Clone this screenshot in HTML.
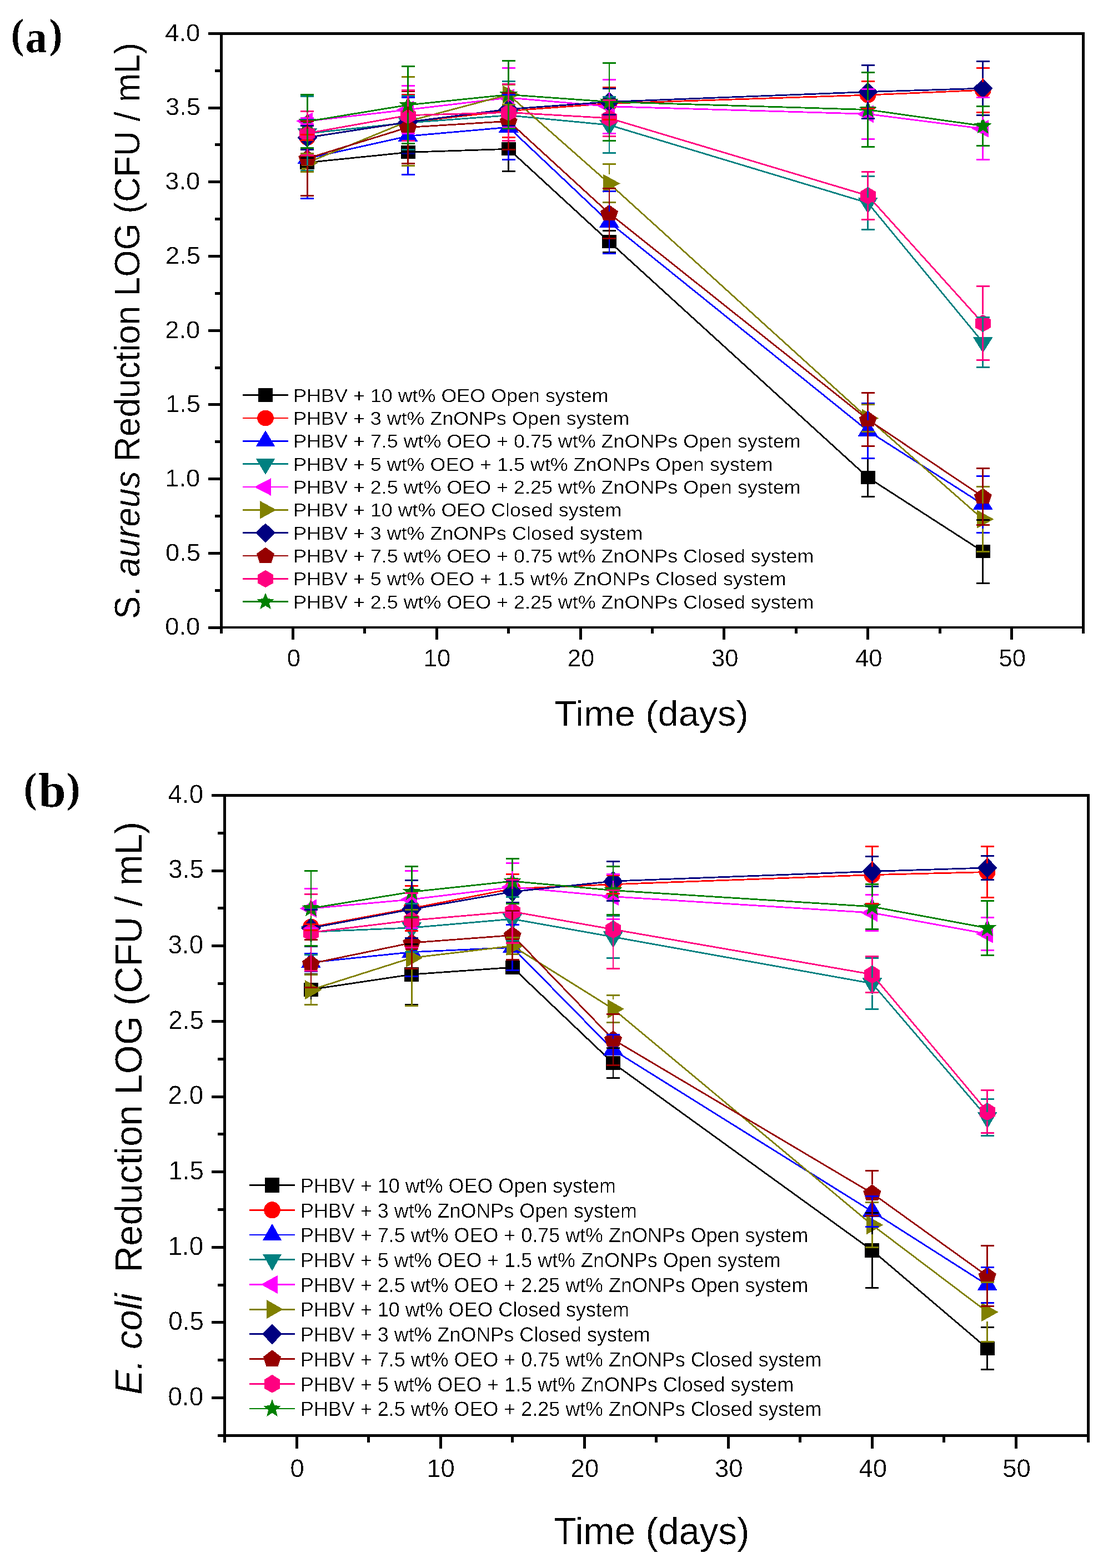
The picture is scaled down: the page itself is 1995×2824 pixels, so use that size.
<!DOCTYPE html>
<html><head><meta charset="utf-8"><title>Antibacterial activity</title>
<style>html,body{margin:0;padding:0;background:#fff;}svg{display:block;}</style></head>
<body><svg width="1995" height="2824" viewBox="0 0 1995 2824" shape-rendering="crispEdges" text-rendering="geometricPrecision">
<rect width="1995" height="2824" fill="#fff"/>
<g fill="#000">
<rect x="396" y="58" width="1557" height="5"/>
<rect x="396" y="1128" width="1557" height="4"/>
<rect x="396" y="58" width="5" height="1074"/>
<rect x="1948" y="58" width="5" height="1074"/>
<rect x="375" y="1127.5" width="22" height="5"/>
<rect x="387" y="1060.65" width="10" height="5"/>
<rect x="375" y="993.8" width="22" height="5"/>
<rect x="387" y="926.95" width="10" height="5"/>
<rect x="375" y="860.1" width="22" height="5"/>
<rect x="387" y="793.25" width="10" height="5"/>
<rect x="375" y="726.4" width="22" height="5"/>
<rect x="387" y="659.55" width="10" height="5"/>
<rect x="375" y="592.7" width="22" height="5"/>
<rect x="387" y="525.85" width="10" height="5"/>
<rect x="375" y="459" width="22" height="5"/>
<rect x="387" y="392.15" width="10" height="5"/>
<rect x="375" y="325.3" width="22" height="5"/>
<rect x="387" y="258.45" width="10" height="5"/>
<rect x="375" y="191.6" width="22" height="5"/>
<rect x="387" y="124.75" width="10" height="5"/>
<rect x="375" y="57.9" width="22" height="5"/>
<rect x="395.6" y="1131" width="5" height="10"/>
<rect x="525" y="1131" width="5" height="21"/>
<rect x="654.4" y="1131" width="5" height="10"/>
<rect x="783.8" y="1131" width="5" height="21"/>
<rect x="913.2" y="1131" width="5" height="10"/>
<rect x="1042.6" y="1131" width="5" height="21"/>
<rect x="1172" y="1131" width="5" height="10"/>
<rect x="1301.4" y="1131" width="5" height="21"/>
<rect x="1430.8" y="1131" width="5" height="10"/>
<rect x="1560.2" y="1131" width="5" height="21"/>
<rect x="1689.6" y="1131" width="5" height="10"/>
<rect x="1819" y="1131" width="5" height="21"/>
<rect x="1948.4" y="1131" width="5" height="10"/>
</g>
<polyline points="553.38,292.77 734.54,274.32 915.7,268.28 1096.86,435.03 1562.7,859.93 1769.74,993.36" fill="none" stroke="#000000" stroke-width="2.8" stroke-linejoin="round"/>
<rect x="540.38" y="280.77" width="26" height="24" fill="#000000"/>
<rect x="721.54" y="262.32" width="26" height="24" fill="#000000"/>
<rect x="902.7" y="256.28" width="26" height="24" fill="#000000"/>
<rect x="1083.86" y="423.03" width="26" height="24" fill="#000000"/>
<rect x="1549.7" y="847.93" width="26" height="24" fill="#000000"/>
<rect x="1756.74" y="981.36" width="26" height="24" fill="#000000"/>
<polyline points="553.38,247.58 734.54,220.04 915.7,199.72 1096.86,186.35 1562.7,171.1 1769.74,162.28" fill="none" stroke="#FF0000" stroke-width="2.8" stroke-linejoin="round"/>
<ellipse cx="553.38" cy="247.58" rx="14.8" ry="14.4" fill="#FF0000"/>
<ellipse cx="734.54" cy="220.04" rx="14.8" ry="14.4" fill="#FF0000"/>
<ellipse cx="915.7" cy="199.72" rx="14.8" ry="14.4" fill="#FF0000"/>
<ellipse cx="1096.86" cy="186.35" rx="14.8" ry="14.4" fill="#FF0000"/>
<ellipse cx="1562.7" cy="171.1" rx="14.8" ry="14.4" fill="#FF0000"/>
<ellipse cx="1769.74" cy="162.28" rx="14.8" ry="14.4" fill="#FF0000"/>
<polyline points="553.38,285.55 734.54,245.17 915.7,229.16 1096.86,400.27 1562.7,775.96 1769.74,908.33" fill="none" stroke="#0000FF" stroke-width="2.8" stroke-linejoin="round"/>
<polygon points="553.38,266.25 571.38,295.15 535.38,295.15" fill="#0000FF"/>
<polygon points="734.54,225.87 752.54,254.77 716.54,254.77" fill="#0000FF"/>
<polygon points="915.7,209.86 933.7,238.76 897.7,238.76" fill="#0000FF"/>
<polygon points="1096.86,380.97 1114.86,409.87 1078.86,409.87" fill="#0000FF"/>
<polygon points="1562.7,756.66 1580.7,785.56 1544.7,785.56" fill="#0000FF"/>
<polygon points="1769.74,889.03 1787.74,917.93 1751.74,917.93" fill="#0000FF"/>
<polyline points="553.38,240.36 734.54,221.11 915.7,207.74 1096.86,225.12 1562.7,365.5 1769.74,616.59" fill="none" stroke="#008080" stroke-width="2.8" stroke-linejoin="round"/>
<polygon points="535.38,230.76 571.38,230.76 553.38,259.66" fill="#008080"/>
<polygon points="716.54,211.51 752.54,211.51 734.54,240.41" fill="#008080"/>
<polygon points="897.7,198.14 933.7,198.14 915.7,227.04" fill="#008080"/>
<polygon points="1078.86,215.52 1114.86,215.52 1096.86,244.42" fill="#008080"/>
<polygon points="1544.7,355.9 1580.7,355.9 1562.7,384.8" fill="#008080"/>
<polygon points="1751.74,606.99 1787.74,606.99 1769.74,635.89" fill="#008080"/>
<polyline points="553.38,218.17 734.54,197.58 915.7,176 1096.86,191.69 1562.7,205.33 1769.74,231.8" fill="none" stroke="#FF00FF" stroke-width="2.8" stroke-linejoin="round"/>
<polygon points="533.08,218.17 563.38,202.37 563.38,233.97" fill="#FF00FF"/>
<polygon points="714.24,197.58 744.54,181.78 744.54,213.38" fill="#FF00FF"/>
<polygon points="895.4,176 925.7,160.2 925.7,191.8" fill="#FF00FF"/>
<polygon points="1076.56,191.69 1106.86,175.89 1106.86,207.49" fill="#FF00FF"/>
<polygon points="1542.4,205.33 1572.7,189.53 1572.7,221.13" fill="#FF00FF"/>
<polygon points="1749.44,231.8 1779.74,216 1779.74,247.6" fill="#FF00FF"/>
<polyline points="553.38,293.04 734.54,218.43 915.7,170.38 1096.86,330.47 1562.7,753.23 1769.74,935.07" fill="none" stroke="#808000" stroke-width="2.8" stroke-linejoin="round"/>
<polygon points="542.88,276.54 573.18,293.04 542.88,309.54" fill="#808000"/>
<polygon points="724.04,201.93 754.34,218.43 724.04,234.93" fill="#808000"/>
<polygon points="905.2,153.88 935.5,170.38 905.2,186.88" fill="#808000"/>
<polygon points="1086.36,313.97 1116.66,330.47 1086.36,346.97" fill="#808000"/>
<polygon points="1552.2,736.73 1582.5,753.23 1552.2,769.73" fill="#808000"/>
<polygon points="1759.24,918.57 1789.54,935.07 1759.24,951.57" fill="#808000"/>
<polyline points="553.38,247.85 734.54,219.77 915.7,196.59 1096.86,183.4 1562.7,165.49 1769.74,159.07" fill="none" stroke="#000080" stroke-width="2.8" stroke-linejoin="round"/>
<polygon points="553.38,230.25 571.28,247.85 553.38,265.45 535.48,247.85" fill="#000080"/>
<polygon points="734.54,202.17 752.44,219.77 734.54,237.37 716.64,219.77" fill="#000080"/>
<polygon points="915.7,178.99 933.6,196.59 915.7,214.19 897.8,196.59" fill="#000080"/>
<polygon points="1096.86,165.8 1114.76,183.4 1096.86,201 1078.96,183.4" fill="#000080"/>
<polygon points="1562.7,147.89 1580.6,165.49 1562.7,183.09 1544.8,165.49" fill="#000080"/>
<polygon points="1769.74,141.47 1787.64,159.07 1769.74,176.67 1751.84,159.07" fill="#000080"/>
<polyline points="553.38,285.28 734.54,229.4 915.7,218.25 1096.86,384.22 1562.7,755.64 1769.74,894.69" fill="none" stroke="#960000" stroke-width="2.8" stroke-linejoin="round"/>
<polygon points="553.38,269.78 569.38,281.48 564.18,297.78 542.58,297.78 537.38,281.48" fill="#960000"/>
<polygon points="734.54,213.9 750.54,225.6 745.34,241.9 723.74,241.9 718.54,225.6" fill="#960000"/>
<polygon points="915.7,202.75 931.7,214.45 926.5,230.75 904.9,230.75 899.7,214.45" fill="#960000"/>
<polygon points="1096.86,368.72 1112.86,380.42 1107.66,396.72 1086.06,396.72 1080.86,380.42" fill="#960000"/>
<polygon points="1562.7,740.14 1578.7,751.84 1573.5,768.14 1551.9,768.14 1546.7,751.84" fill="#960000"/>
<polygon points="1769.74,879.19 1785.74,890.89 1780.54,907.19 1758.94,907.19 1753.74,890.89" fill="#960000"/>
<polyline points="553.38,240.09 734.54,207.74 915.7,202.44 1096.86,212.82 1562.7,352.4 1769.74,582.1" fill="none" stroke="#FF0080" stroke-width="2.8" stroke-linejoin="round"/>
<polygon points="553.38,224.49 567.38,232.89 567.38,248.29 553.38,255.69 539.38,248.29 539.38,232.89" fill="#FF0080"/>
<polygon points="734.54,192.14 748.54,200.54 748.54,215.94 734.54,223.34 720.54,215.94 720.54,200.54" fill="#FF0080"/>
<polygon points="915.7,186.84 929.7,195.24 929.7,210.64 915.7,218.04 901.7,210.64 901.7,195.24" fill="#FF0080"/>
<polygon points="1096.86,197.22 1110.86,205.62 1110.86,221.02 1096.86,228.42 1082.86,221.02 1082.86,205.62" fill="#FF0080"/>
<polygon points="1562.7,336.8 1576.7,345.2 1576.7,360.6 1562.7,368 1548.7,360.6 1548.7,345.2" fill="#FF0080"/>
<polygon points="1769.74,566.5 1783.74,574.9 1783.74,590.3 1769.74,597.7 1755.74,590.3 1755.74,574.9" fill="#FF0080"/>
<polyline points="553.38,218.7 734.54,189.02 915.7,170.46 1096.86,183.4 1562.7,197.58 1769.74,226.72" fill="none" stroke="#008000" stroke-width="2.8" stroke-linejoin="round"/>
<polygon points="553.38,202.05 557.73,213.13 569.83,213.76 560.42,221.24 563.55,232.72 553.38,226.25 543.21,232.72 546.34,221.24 536.93,213.76 549.03,213.13" fill="#008000"/>
<polygon points="734.54,172.37 738.89,183.45 750.99,184.08 741.58,191.56 744.71,203.04 734.54,196.57 724.37,203.04 727.5,191.56 718.09,184.08 730.19,183.45" fill="#008000"/>
<polygon points="915.7,153.81 920.05,164.89 932.15,165.52 922.74,173 925.87,184.48 915.7,178.01 905.53,184.48 908.66,173 899.25,165.52 911.35,164.89" fill="#008000"/>
<polygon points="1096.86,166.75 1101.21,177.84 1113.31,178.46 1103.9,185.94 1107.03,197.42 1096.86,190.96 1086.69,197.42 1089.82,185.94 1080.41,178.46 1092.51,177.84" fill="#008000"/>
<polygon points="1562.7,180.92 1567.05,192.01 1579.15,192.64 1569.74,200.12 1572.87,211.59 1562.7,205.13 1552.53,211.59 1555.66,200.12 1546.25,192.64 1558.35,192.01" fill="#008000"/>
<polygon points="1769.74,210.07 1774.09,221.16 1786.19,221.78 1776.78,229.26 1779.91,240.74 1769.74,234.27 1759.57,240.74 1762.7,229.26 1753.29,221.78 1765.39,221.16" fill="#008000"/>
<g fill="#000000"><rect x="541.38" y="283.25" width="24" height="3"/><rect x="541.38" y="299.29" width="24" height="3"/><rect x="722.54" y="264.8" width="24" height="3"/><rect x="722.54" y="280.84" width="24" height="3"/><rect x="914.45" y="228.17" width="2.5" height="28.11"/><rect x="914.45" y="280.28" width="2.5" height="28.11"/><rect x="903.7" y="226.67" width="24" height="3"/><rect x="903.7" y="306.89" width="24" height="3"/><rect x="1095.61" y="415.24" width="2.5" height="7.79"/><rect x="1095.61" y="447.03" width="2.5" height="7.79"/><rect x="1084.86" y="413.74" width="24" height="3"/><rect x="1084.86" y="453.31" width="24" height="3"/><rect x="1561.45" y="825.43" width="2.5" height="22.49"/><rect x="1561.45" y="871.93" width="2.5" height="22.49"/><rect x="1550.7" y="823.93" width="24" height="3"/><rect x="1550.7" y="892.92" width="24" height="3"/><rect x="1768.49" y="936.67" width="2.5" height="44.69"/><rect x="1768.49" y="1005.36" width="2.5" height="44.69"/><rect x="1757.74" y="935.17" width="24" height="3"/><rect x="1757.74" y="1048.55" width="24" height="3"/></g>
<g fill="#FF0000"><rect x="541.38" y="240.73" width="24" height="3"/><rect x="541.38" y="251.43" width="24" height="3"/><rect x="733.29" y="170.3" width="2.5" height="35.34"/><rect x="733.29" y="234.44" width="2.5" height="35.34"/><rect x="722.54" y="168.8" width="24" height="3"/><rect x="722.54" y="268.27" width="24" height="3"/><rect x="914.45" y="151.45" width="2.5" height="33.87"/><rect x="914.45" y="214.12" width="2.5" height="33.87"/><rect x="903.7" y="149.95" width="24" height="3"/><rect x="903.7" y="246.48" width="24" height="3"/><rect x="1095.61" y="157.47" width="2.5" height="14.48"/><rect x="1095.61" y="200.75" width="2.5" height="14.48"/><rect x="1084.86" y="155.97" width="24" height="3"/><rect x="1084.86" y="213.72" width="24" height="3"/><rect x="1561.45" y="146.77" width="2.5" height="9.93"/><rect x="1561.45" y="185.5" width="2.5" height="9.93"/><rect x="1550.7" y="145.27" width="24" height="3"/><rect x="1550.7" y="193.94" width="24" height="3"/><rect x="1768.49" y="122.17" width="2.5" height="25.71"/><rect x="1768.49" y="176.68" width="2.5" height="25.71"/><rect x="1757.74" y="120.67" width="24" height="3"/><rect x="1757.74" y="200.89" width="24" height="3"/></g>
<g fill="#0000FF"><rect x="552.13" y="213.35" width="2.5" height="52.9"/><rect x="552.13" y="295.15" width="2.5" height="62.6"/><rect x="541.38" y="211.85" width="24" height="3"/><rect x="541.38" y="356.25" width="24" height="3"/><rect x="733.29" y="175.65" width="2.5" height="50.22"/><rect x="733.29" y="254.77" width="2.5" height="59.92"/><rect x="722.54" y="174.15" width="24" height="3"/><rect x="722.54" y="313.2" width="24" height="3"/><rect x="914.45" y="170.33" width="2.5" height="39.53"/><rect x="914.45" y="238.76" width="2.5" height="49.23"/><rect x="903.7" y="168.83" width="24" height="3"/><rect x="903.7" y="286.48" width="24" height="3"/><rect x="1095.61" y="344.51" width="2.5" height="36.45"/><rect x="1095.61" y="409.87" width="2.5" height="46.15"/><rect x="1084.86" y="343.01" width="24" height="3"/><rect x="1084.86" y="454.52" width="24" height="3"/><rect x="1561.45" y="726.76" width="2.5" height="29.9"/><rect x="1561.45" y="785.56" width="2.5" height="39.6"/><rect x="1550.7" y="725.26" width="24" height="3"/><rect x="1550.7" y="823.66" width="24" height="3"/><rect x="1768.49" y="857.25" width="2.5" height="31.77"/><rect x="1768.49" y="917.93" width="2.5" height="41.47"/><rect x="1757.74" y="855.75" width="24" height="3"/><rect x="1757.74" y="957.9" width="24" height="3"/></g>
<g fill="#008080"><rect x="552.13" y="173.51" width="2.5" height="57.25"/><rect x="552.13" y="259.66" width="2.5" height="47.55"/><rect x="541.38" y="172.01" width="24" height="3"/><rect x="541.38" y="305.71" width="24" height="3"/><rect x="733.29" y="172.98" width="2.5" height="38.53"/><rect x="733.29" y="240.41" width="2.5" height="28.83"/><rect x="722.54" y="171.48" width="24" height="3"/><rect x="722.54" y="267.74" width="24" height="3"/><rect x="914.45" y="146.24" width="2.5" height="51.9"/><rect x="914.45" y="227.04" width="2.5" height="42.2"/><rect x="903.7" y="144.74" width="24" height="3"/><rect x="903.7" y="267.74" width="24" height="3"/><rect x="1095.61" y="174.58" width="2.5" height="40.94"/><rect x="1095.61" y="244.42" width="2.5" height="31.24"/><rect x="1084.86" y="173.08" width="24" height="3"/><rect x="1084.86" y="274.16" width="24" height="3"/><rect x="1561.45" y="317.64" width="2.5" height="38.26"/><rect x="1561.45" y="384.8" width="2.5" height="28.56"/><rect x="1550.7" y="316.14" width="24" height="3"/><rect x="1550.7" y="411.87" width="24" height="3"/><rect x="1768.49" y="571.4" width="2.5" height="35.59"/><rect x="1768.49" y="635.89" width="2.5" height="25.89"/><rect x="1757.74" y="569.9" width="24" height="3"/><rect x="1757.74" y="660.28" width="24" height="3"/></g>
<g fill="#FF00FF"><rect x="541.38" y="211.32" width="24" height="3"/><rect x="541.38" y="222.01" width="24" height="3"/><rect x="733.29" y="154.52" width="2.5" height="27.25"/><rect x="733.29" y="213.38" width="2.5" height="27.25"/><rect x="722.54" y="153.02" width="24" height="3"/><rect x="722.54" y="239.13" width="24" height="3"/><rect x="914.45" y="122.52" width="2.5" height="37.68"/><rect x="914.45" y="191.8" width="2.5" height="37.68"/><rect x="903.7" y="121.02" width="24" height="3"/><rect x="903.7" y="227.98" width="24" height="3"/><rect x="1095.61" y="143.03" width="2.5" height="32.87"/><rect x="1095.61" y="207.49" width="2.5" height="32.87"/><rect x="1084.86" y="141.53" width="24" height="3"/><rect x="1084.86" y="238.86" width="24" height="3"/><rect x="1561.45" y="160.14" width="2.5" height="29.39"/><rect x="1561.45" y="221.13" width="2.5" height="29.39"/><rect x="1550.7" y="158.64" width="24" height="3"/><rect x="1550.7" y="249.02" width="24" height="3"/><rect x="1768.49" y="175.65" width="2.5" height="40.35"/><rect x="1768.49" y="247.6" width="2.5" height="40.35"/><rect x="1757.74" y="174.15" width="24" height="3"/><rect x="1757.74" y="286.46" width="24" height="3"/></g>
<g fill="#808000"><rect x="541.38" y="275.49" width="24" height="3"/><rect x="541.38" y="307.58" width="24" height="3"/><rect x="733.29" y="138.21" width="2.5" height="63.72"/><rect x="733.29" y="234.93" width="2.5" height="63.72"/><rect x="722.54" y="136.71" width="24" height="3"/><rect x="722.54" y="297.15" width="24" height="3"/><rect x="914.45" y="152.2" width="2.5" height="1.68"/><rect x="914.45" y="186.88" width="2.5" height="1.68"/><rect x="903.7" y="150.7" width="24" height="3"/><rect x="903.7" y="187.06" width="24" height="3"/><rect x="1095.61" y="295.98" width="2.5" height="17.99"/><rect x="1095.61" y="346.97" width="2.5" height="17.99"/><rect x="1084.86" y="294.48" width="24" height="3"/><rect x="1084.86" y="363.47" width="24" height="3"/><rect x="1561.45" y="728.9" width="2.5" height="7.83"/><rect x="1561.45" y="769.73" width="2.5" height="7.83"/><rect x="1550.7" y="727.4" width="24" height="3"/><rect x="1550.7" y="776.07" width="24" height="3"/><rect x="1768.49" y="876.24" width="2.5" height="42.33"/><rect x="1768.49" y="951.57" width="2.5" height="42.33"/><rect x="1757.74" y="874.74" width="24" height="3"/><rect x="1757.74" y="992.39" width="24" height="3"/></g>
<g fill="#000080"><rect x="552.13" y="226.46" width="2.5" height="3.79"/><rect x="552.13" y="265.45" width="2.5" height="3.79"/><rect x="541.38" y="224.96" width="24" height="3"/><rect x="541.38" y="267.74" width="24" height="3"/><rect x="733.29" y="162.68" width="2.5" height="39.49"/><rect x="733.29" y="237.37" width="2.5" height="39.49"/><rect x="722.54" y="161.18" width="24" height="3"/><rect x="722.54" y="275.36" width="24" height="3"/><rect x="914.45" y="167.04" width="2.5" height="11.95"/><rect x="914.45" y="214.19" width="2.5" height="11.95"/><rect x="903.7" y="165.54" width="24" height="3"/><rect x="903.7" y="224.63" width="24" height="3"/><rect x="1095.61" y="159.87" width="2.5" height="5.93"/><rect x="1095.61" y="201" width="2.5" height="5.93"/><rect x="1084.86" y="158.37" width="24" height="3"/><rect x="1084.86" y="205.44" width="24" height="3"/><rect x="1561.45" y="117.36" width="2.5" height="30.53"/><rect x="1561.45" y="183.09" width="2.5" height="30.53"/><rect x="1550.7" y="115.86" width="24" height="3"/><rect x="1550.7" y="212.12" width="24" height="3"/><rect x="1768.49" y="110.94" width="2.5" height="30.53"/><rect x="1768.49" y="176.67" width="2.5" height="30.53"/><rect x="1757.74" y="109.44" width="24" height="3"/><rect x="1757.74" y="205.7" width="24" height="3"/></g>
<g fill="#960000"><rect x="552.13" y="218.43" width="2.5" height="51.35"/><rect x="552.13" y="297.78" width="2.5" height="54.35"/><rect x="541.38" y="216.93" width="24" height="3"/><rect x="541.38" y="350.63" width="24" height="3"/><rect x="733.29" y="164.69" width="2.5" height="49.21"/><rect x="733.29" y="241.9" width="2.5" height="52.21"/><rect x="722.54" y="163.19" width="24" height="3"/><rect x="722.54" y="292.61" width="24" height="3"/><rect x="914.45" y="167.17" width="2.5" height="35.57"/><rect x="914.45" y="230.75" width="2.5" height="38.57"/><rect x="903.7" y="165.67" width="24" height="3"/><rect x="903.7" y="267.82" width="24" height="3"/><rect x="1095.61" y="339.03" width="2.5" height="29.69"/><rect x="1095.61" y="396.72" width="2.5" height="32.69"/><rect x="1084.86" y="337.53" width="24" height="3"/><rect x="1084.86" y="427.91" width="24" height="3"/><rect x="1561.45" y="707.51" width="2.5" height="32.63"/><rect x="1561.45" y="768.14" width="2.5" height="35.63"/><rect x="1550.7" y="706.01" width="24" height="3"/><rect x="1550.7" y="802.27" width="24" height="3"/><rect x="1768.49" y="843.88" width="2.5" height="35.31"/><rect x="1768.49" y="907.19" width="2.5" height="38.31"/><rect x="1757.74" y="842.38" width="24" height="3"/><rect x="1757.74" y="943.99" width="24" height="3"/></g>
<g fill="#FF0080"><rect x="552.13" y="200.25" width="2.5" height="24.24"/><rect x="552.13" y="255.69" width="2.5" height="24.24"/><rect x="541.38" y="198.75" width="24" height="3"/><rect x="541.38" y="278.44" width="24" height="3"/><rect x="733.29" y="162.28" width="2.5" height="29.86"/><rect x="733.29" y="223.34" width="2.5" height="29.86"/><rect x="722.54" y="160.78" width="24" height="3"/><rect x="722.54" y="251.7" width="24" height="3"/><rect x="914.45" y="151.37" width="2.5" height="35.47"/><rect x="914.45" y="218.04" width="2.5" height="35.47"/><rect x="903.7" y="149.87" width="24" height="3"/><rect x="903.7" y="252.02" width="24" height="3"/><rect x="1095.61" y="180.46" width="2.5" height="16.76"/><rect x="1095.61" y="228.42" width="2.5" height="16.76"/><rect x="1084.86" y="178.96" width="24" height="3"/><rect x="1084.86" y="243.67" width="24" height="3"/><rect x="1561.45" y="309.35" width="2.5" height="27.45"/><rect x="1561.45" y="368" width="2.5" height="27.45"/><rect x="1550.7" y="307.85" width="24" height="3"/><rect x="1550.7" y="393.95" width="24" height="3"/><rect x="1768.49" y="515.51" width="2.5" height="50.98"/><rect x="1768.49" y="597.7" width="2.5" height="50.98"/><rect x="1757.74" y="514.01" width="24" height="3"/><rect x="1757.74" y="647.18" width="24" height="3"/></g>
<g fill="#008000"><rect x="552.13" y="170.84" width="2.5" height="30.86"/><rect x="552.13" y="232.2" width="2.5" height="34.36"/><rect x="541.38" y="169.34" width="24" height="3"/><rect x="541.38" y="265.07" width="24" height="3"/><rect x="733.29" y="119.5" width="2.5" height="52.52"/><rect x="733.29" y="202.52" width="2.5" height="56.02"/><rect x="722.54" y="118" width="24" height="3"/><rect x="722.54" y="257.04" width="24" height="3"/><rect x="914.45" y="109.23" width="2.5" height="44.23"/><rect x="914.45" y="183.96" width="2.5" height="47.73"/><rect x="903.7" y="107.73" width="24" height="3"/><rect x="903.7" y="230.2" width="24" height="3"/><rect x="1095.61" y="113.35" width="2.5" height="53.06"/><rect x="1095.61" y="196.9" width="2.5" height="56.56"/><rect x="1084.86" y="111.85" width="24" height="3"/><rect x="1084.86" y="251.96" width="24" height="3"/><rect x="1561.45" y="130.73" width="2.5" height="49.85"/><rect x="1561.45" y="211.08" width="2.5" height="53.35"/><rect x="1550.7" y="129.23" width="24" height="3"/><rect x="1550.7" y="262.93" width="24" height="3"/><rect x="1768.49" y="191.43" width="2.5" height="18.3"/><rect x="1768.49" y="240.22" width="2.5" height="21.8"/><rect x="1757.74" y="189.93" width="24" height="3"/><rect x="1757.74" y="260.52" width="24" height="3"/></g>
<g fill="#000">
<rect x="402" y="1430" width="1560" height="5"/>
<rect x="402" y="2583" width="1560" height="5"/>
<rect x="402" y="1430" width="5" height="1158"/>
<rect x="1957" y="1430" width="5" height="1158"/>
<rect x="392" y="2582.92" width="11" height="5"/>
<rect x="381" y="2515.1" width="22" height="5"/>
<rect x="392" y="2447.28" width="11" height="5"/>
<rect x="381" y="2379.45" width="22" height="5"/>
<rect x="392" y="2311.62" width="11" height="5"/>
<rect x="381" y="2243.8" width="22" height="5"/>
<rect x="392" y="2175.97" width="11" height="5"/>
<rect x="381" y="2108.15" width="22" height="5"/>
<rect x="392" y="2040.32" width="11" height="5"/>
<rect x="381" y="1972.5" width="22" height="5"/>
<rect x="392" y="1904.67" width="11" height="5"/>
<rect x="381" y="1836.85" width="22" height="5"/>
<rect x="392" y="1769.02" width="11" height="5"/>
<rect x="381" y="1701.2" width="22" height="5"/>
<rect x="392" y="1633.38" width="11" height="5"/>
<rect x="381" y="1565.55" width="22" height="5"/>
<rect x="392" y="1497.72" width="11" height="5"/>
<rect x="381" y="1429.9" width="22" height="5"/>
<rect x="401.95" y="2587" width="5" height="11"/>
<rect x="531.5" y="2587" width="5" height="22"/>
<rect x="661.05" y="2587" width="5" height="11"/>
<rect x="790.6" y="2587" width="5" height="22"/>
<rect x="920.15" y="2587" width="5" height="11"/>
<rect x="1049.7" y="2587" width="5" height="22"/>
<rect x="1179.25" y="2587" width="5" height="11"/>
<rect x="1308.8" y="2587" width="5" height="22"/>
<rect x="1438.35" y="2587" width="5" height="11"/>
<rect x="1567.9" y="2587" width="5" height="22"/>
<rect x="1697.45" y="2587" width="5" height="11"/>
<rect x="1827" y="2587" width="5" height="22"/>
<rect x="1956.55" y="2587" width="5" height="11"/>
</g>
<polyline points="559.91,1782.11 741.28,1754.98 922.65,1742.22 1104.02,1914.77 1570.4,2252 1777.68,2428.61" fill="none" stroke="#000000" stroke-width="2.8" stroke-linejoin="round"/>
<rect x="546.91" y="1769.51" width="26" height="25.2" fill="#000000"/>
<rect x="728.28" y="1742.38" width="26" height="25.2" fill="#000000"/>
<rect x="909.65" y="1729.62" width="26" height="25.2" fill="#000000"/>
<rect x="1091.02" y="1902.17" width="26" height="25.2" fill="#000000"/>
<rect x="1557.4" y="2239.4" width="26" height="25.2" fill="#000000"/>
<rect x="1764.68" y="2416.01" width="26" height="25.2" fill="#000000"/>
<polyline points="559.91,1669.79 741.28,1635.88 922.65,1600.61 1104.02,1592.74 1570.4,1575.65 1777.68,1570.49" fill="none" stroke="#FF0000" stroke-width="2.8" stroke-linejoin="round"/>
<ellipse cx="559.91" cy="1669.79" rx="14.8" ry="15.12" fill="#FF0000"/>
<ellipse cx="741.28" cy="1635.88" rx="14.8" ry="15.12" fill="#FF0000"/>
<ellipse cx="922.65" cy="1600.61" rx="14.8" ry="15.12" fill="#FF0000"/>
<ellipse cx="1104.02" cy="1592.74" rx="14.8" ry="15.12" fill="#FF0000"/>
<ellipse cx="1570.4" cy="1575.65" rx="14.8" ry="15.12" fill="#FF0000"/>
<ellipse cx="1777.68" cy="1570.49" rx="14.8" ry="15.12" fill="#FF0000"/>
<polyline points="559.91,1733.38 741.28,1714.71 922.65,1706.41 1104.02,1890.9 1570.4,2182 1777.68,2314.12" fill="none" stroke="#0000FF" stroke-width="2.8" stroke-linejoin="round"/>
<polygon points="559.91,1713.12 577.91,1743.46 541.91,1743.46" fill="#0000FF"/>
<polygon points="741.28,1694.45 759.28,1724.79 723.28,1724.79" fill="#0000FF"/>
<polygon points="922.65,1686.15 940.65,1716.49 904.65,1716.49" fill="#0000FF"/>
<polygon points="1104.02,1870.63 1122.02,1900.98 1086.02,1900.98" fill="#0000FF"/>
<polygon points="1570.4,2161.74 1588.4,2192.08 1552.4,2192.08" fill="#0000FF"/>
<polygon points="1777.68,2293.86 1795.68,2324.2 1759.68,2324.2" fill="#0000FF"/>
<polyline points="559.91,1678.28 741.28,1670.87 922.65,1655.14 1104.02,1687.42 1570.4,1771.25 1777.68,2012.71" fill="none" stroke="#008080" stroke-width="2.8" stroke-linejoin="round"/>
<polygon points="541.91,1668.2 577.91,1668.2 559.91,1698.54" fill="#008080"/>
<polygon points="723.28,1660.79 759.28,1660.79 741.28,1691.14" fill="#008080"/>
<polygon points="904.65,1645.06 940.65,1645.06 922.65,1675.4" fill="#008080"/>
<polygon points="1086.02,1677.34 1122.02,1677.34 1104.02,1707.69" fill="#008080"/>
<polygon points="1552.4,1761.17 1588.4,1761.17 1570.4,1791.52" fill="#008080"/>
<polygon points="1759.68,2002.63 1795.68,2002.63 1777.68,2032.98" fill="#008080"/>
<polyline points="559.91,1636.15 741.28,1619.87 922.65,1597.62 1104.02,1614.71 1570.4,1644.01 1777.68,1682" fill="none" stroke="#FF00FF" stroke-width="2.8" stroke-linejoin="round"/>
<polygon points="539.61,1636.15 569.91,1619.56 569.91,1652.74" fill="#FF00FF"/>
<polygon points="720.98,1619.87 751.28,1603.28 751.28,1636.46" fill="#FF00FF"/>
<polygon points="902.35,1597.62 932.65,1581.03 932.65,1614.21" fill="#FF00FF"/>
<polygon points="1083.72,1614.71 1114.02,1598.12 1114.02,1631.3" fill="#FF00FF"/>
<polygon points="1550.1,1644.01 1580.4,1627.42 1580.4,1660.6" fill="#FF00FF"/>
<polygon points="1757.38,1682 1787.68,1665.41 1787.68,1698.59" fill="#FF00FF"/>
<polyline points="559.91,1782.65 741.28,1725.13 922.65,1703.7 1104.02,1817.1 1570.4,2206.15 1777.68,2362.96" fill="none" stroke="#808000" stroke-width="2.8" stroke-linejoin="round"/>
<polygon points="549.41,1765.32 579.71,1782.65 549.41,1799.97" fill="#808000"/>
<polygon points="730.78,1707.81 761.08,1725.13 730.78,1742.46" fill="#808000"/>
<polygon points="912.15,1686.37 942.45,1703.7 912.15,1721.02" fill="#808000"/>
<polygon points="1093.52,1799.78 1123.82,1817.1 1093.52,1834.43" fill="#808000"/>
<polygon points="1559.9,2188.82 1590.2,2206.15 1559.9,2223.47" fill="#808000"/>
<polygon points="1767.18,2345.63 1797.48,2362.96 1767.18,2380.28" fill="#808000"/>
<polyline points="559.91,1671.42 741.28,1637.64 922.65,1606.03 1104.02,1587.04 1570.4,1569.41 1777.68,1562.9" fill="none" stroke="#000080" stroke-width="2.8" stroke-linejoin="round"/>
<polygon points="559.91,1652.94 577.81,1671.42 559.91,1689.9 542.01,1671.42" fill="#000080"/>
<polygon points="741.28,1619.16 759.18,1637.64 741.28,1656.12 723.38,1637.64" fill="#000080"/>
<polygon points="922.65,1587.55 940.55,1606.03 922.65,1624.51 904.75,1606.03" fill="#000080"/>
<polygon points="1104.02,1568.56 1121.92,1587.04 1104.02,1605.52 1086.12,1587.04" fill="#000080"/>
<polygon points="1570.4,1550.93 1588.3,1569.41 1570.4,1587.89 1552.5,1569.41" fill="#000080"/>
<polygon points="1777.68,1544.42 1795.58,1562.9 1777.68,1581.38 1759.78,1562.9" fill="#000080"/>
<polyline points="559.91,1735.44 741.28,1698 922.65,1684.44 1104.02,1872.18 1570.4,2149.17 1777.68,2298.12" fill="none" stroke="#960000" stroke-width="2.8" stroke-linejoin="round"/>
<polygon points="559.91,1719.17 575.91,1731.45 570.71,1748.57 549.11,1748.57 543.91,1731.45" fill="#960000"/>
<polygon points="741.28,1681.73 757.28,1694.01 752.08,1711.13 730.48,1711.13 725.28,1694.01" fill="#960000"/>
<polygon points="922.65,1668.16 938.65,1680.45 933.45,1697.56 911.85,1697.56 906.65,1680.45" fill="#960000"/>
<polygon points="1104.02,1855.9 1120.02,1868.19 1114.82,1885.3 1093.22,1885.3 1088.02,1868.19" fill="#960000"/>
<polygon points="1570.4,2132.9 1586.4,2145.18 1581.2,2162.3 1559.6,2162.3 1554.4,2145.18" fill="#960000"/>
<polygon points="1777.68,2281.84 1793.68,2294.13 1788.48,2311.24 1766.88,2311.24 1761.68,2294.13" fill="#960000"/>
<polyline points="559.91,1679.28 741.28,1657.58 922.65,1641.84 1104.02,1673.86 1570.4,1754.98 1777.68,2002.13" fill="none" stroke="#FF0080" stroke-width="2.8" stroke-linejoin="round"/>
<polygon points="559.91,1662.9 573.91,1671.72 573.91,1687.89 559.91,1695.66 545.91,1687.89 545.91,1671.72" fill="#FF0080"/>
<polygon points="741.28,1641.2 755.28,1650.02 755.28,1666.19 741.28,1673.96 727.28,1666.19 727.28,1650.02" fill="#FF0080"/>
<polygon points="922.65,1625.46 936.65,1634.28 936.65,1650.45 922.65,1658.22 908.65,1650.45 908.65,1634.28" fill="#FF0080"/>
<polygon points="1104.02,1657.48 1118.02,1666.3 1118.02,1682.47 1104.02,1690.24 1090.02,1682.47 1090.02,1666.3" fill="#FF0080"/>
<polygon points="1570.4,1738.6 1584.4,1747.42 1584.4,1763.59 1570.4,1771.36 1556.4,1763.59 1556.4,1747.42" fill="#FF0080"/>
<polygon points="1777.68,1985.75 1791.68,1994.57 1791.68,2010.74 1777.68,2018.51 1763.68,2010.74 1763.68,1994.57" fill="#FF0080"/>
<polyline points="559.91,1635.88 741.28,1606.3 922.65,1587.04 1104.02,1603.59 1570.4,1632.89 1777.68,1671.42" fill="none" stroke="#008000" stroke-width="2.8" stroke-linejoin="round"/>
<polygon points="559.91,1618.39 564.26,1630.03 576.36,1630.69 566.95,1638.54 570.08,1650.59 559.91,1643.8 549.74,1650.59 552.87,1638.54 543.46,1630.69 555.56,1630.03" fill="#008000"/>
<polygon points="741.28,1588.82 745.63,1600.46 757.73,1601.12 748.32,1608.97 751.45,1621.02 741.28,1614.23 731.11,1621.02 734.24,1608.97 724.83,1601.12 736.93,1600.46" fill="#008000"/>
<polygon points="922.65,1569.55 927,1581.2 939.1,1581.85 929.69,1589.71 932.82,1601.76 922.65,1594.97 912.48,1601.76 915.61,1589.71 906.2,1581.85 918.3,1581.2" fill="#008000"/>
<polygon points="1104.02,1586.1 1108.37,1597.74 1120.47,1598.4 1111.06,1606.26 1114.19,1618.31 1104.02,1611.52 1093.85,1618.31 1096.98,1606.26 1087.57,1598.4 1099.67,1597.74" fill="#008000"/>
<polygon points="1570.4,1615.4 1574.75,1627.05 1586.85,1627.7 1577.44,1635.56 1580.57,1647.61 1570.4,1640.82 1560.23,1647.61 1563.36,1635.56 1553.95,1627.7 1566.05,1627.05" fill="#008000"/>
<polygon points="1777.68,1653.93 1782.03,1665.57 1794.13,1666.23 1784.72,1674.08 1787.85,1686.13 1777.68,1679.34 1767.51,1686.13 1770.64,1674.08 1761.23,1666.23 1773.33,1665.57" fill="#008000"/>
<g fill="#000000"><rect x="558.66" y="1754.98" width="2.5" height="14.53"/><rect x="558.66" y="1794.71" width="2.5" height="14.53"/><rect x="547.91" y="1753.48" width="24" height="3"/><rect x="547.91" y="1807.74" width="24" height="3"/><rect x="740.03" y="1700.72" width="2.5" height="41.66"/><rect x="740.03" y="1767.58" width="2.5" height="41.66"/><rect x="729.28" y="1699.22" width="24" height="3"/><rect x="729.28" y="1807.74" width="24" height="3"/><rect x="910.65" y="1729.87" width="24" height="3"/><rect x="910.65" y="1751.58" width="24" height="3"/><rect x="1102.77" y="1887.64" width="2.5" height="14.53"/><rect x="1102.77" y="1927.37" width="2.5" height="14.53"/><rect x="1092.02" y="1886.14" width="24" height="3"/><rect x="1092.02" y="1940.4" width="24" height="3"/><rect x="1569.15" y="2184.44" width="2.5" height="54.95"/><rect x="1569.15" y="2264.6" width="2.5" height="54.95"/><rect x="1558.4" y="2182.94" width="24" height="3"/><rect x="1558.4" y="2318.05" width="24" height="3"/><rect x="1776.43" y="2390.63" width="2.5" height="25.38"/><rect x="1776.43" y="2441.21" width="2.5" height="25.38"/><rect x="1765.68" y="2389.13" width="24" height="3"/><rect x="1765.68" y="2465.1" width="24" height="3"/></g>
<g fill="#FF0000"><rect x="547.91" y="1662.86" width="24" height="3"/><rect x="547.91" y="1673.71" width="24" height="3"/><rect x="740.03" y="1595.45" width="2.5" height="25.3"/><rect x="740.03" y="1650.99" width="2.5" height="25.3"/><rect x="729.28" y="1593.95" width="24" height="3"/><rect x="729.28" y="1674.8" width="24" height="3"/><rect x="921.4" y="1574.29" width="2.5" height="11.2"/><rect x="921.4" y="1615.73" width="2.5" height="11.2"/><rect x="910.65" y="1572.79" width="24" height="3"/><rect x="910.65" y="1625.42" width="24" height="3"/><rect x="1102.77" y="1576.46" width="2.5" height="1.16"/><rect x="1102.77" y="1607.86" width="2.5" height="1.16"/><rect x="1092.02" y="1574.96" width="24" height="3"/><rect x="1092.02" y="1607.52" width="24" height="3"/><rect x="1569.15" y="1524.1" width="2.5" height="36.43"/><rect x="1569.15" y="1590.77" width="2.5" height="36.43"/><rect x="1558.4" y="1522.6" width="24" height="3"/><rect x="1558.4" y="1625.69" width="24" height="3"/><rect x="1776.43" y="1524.37" width="2.5" height="31"/><rect x="1776.43" y="1585.61" width="2.5" height="31"/><rect x="1765.68" y="1522.87" width="24" height="3"/><rect x="1765.68" y="1615.11" width="24" height="3"/></g>
<g fill="#0000FF"><rect x="558.66" y="1743.46" width="2.5" height="5.63"/><rect x="547.91" y="1716.17" width="24" height="3"/><rect x="547.91" y="1747.59" width="24" height="3"/><rect x="740.03" y="1671.42" width="2.5" height="23.03"/><rect x="740.03" y="1724.79" width="2.5" height="33.22"/><rect x="729.28" y="1669.92" width="24" height="3"/><rect x="729.28" y="1756.51" width="24" height="3"/><rect x="921.4" y="1665.72" width="2.5" height="20.43"/><rect x="921.4" y="1716.49" width="2.5" height="30.62"/><rect x="910.65" y="1664.22" width="24" height="3"/><rect x="910.65" y="1745.61" width="24" height="3"/><rect x="1102.77" y="1863.77" width="2.5" height="6.87"/><rect x="1102.77" y="1900.98" width="2.5" height="17.05"/><rect x="1092.02" y="1862.27" width="24" height="3"/><rect x="1092.02" y="1916.53" width="24" height="3"/><rect x="1569.15" y="2154.87" width="2.5" height="6.86"/><rect x="1569.15" y="2192.08" width="2.5" height="17.05"/><rect x="1558.4" y="2153.37" width="24" height="3"/><rect x="1558.4" y="2207.63" width="24" height="3"/><rect x="1776.43" y="2282.11" width="2.5" height="11.75"/><rect x="1776.43" y="2324.2" width="2.5" height="21.93"/><rect x="1765.68" y="2280.61" width="24" height="3"/><rect x="1765.68" y="2344.64" width="24" height="3"/></g>
<g fill="#008080"><rect x="558.66" y="1637.53" width="2.5" height="30.67"/><rect x="558.66" y="1698.54" width="2.5" height="20.48"/><rect x="547.91" y="1636.03" width="24" height="3"/><rect x="547.91" y="1717.53" width="24" height="3"/><rect x="740.03" y="1627.74" width="2.5" height="33.06"/><rect x="740.03" y="1691.14" width="2.5" height="22.87"/><rect x="729.28" y="1626.24" width="24" height="3"/><rect x="729.28" y="1712.51" width="24" height="3"/><rect x="921.4" y="1615.53" width="2.5" height="29.53"/><rect x="921.4" y="1675.4" width="2.5" height="19.34"/><rect x="910.65" y="1614.03" width="24" height="3"/><rect x="910.65" y="1693.25" width="24" height="3"/><rect x="1102.77" y="1649.44" width="2.5" height="27.9"/><rect x="1102.77" y="1707.69" width="2.5" height="17.72"/><rect x="1092.02" y="1647.94" width="24" height="3"/><rect x="1092.02" y="1723.9" width="24" height="3"/><rect x="1569.15" y="1725.4" width="2.5" height="35.77"/><rect x="1569.15" y="1791.52" width="2.5" height="25.58"/><rect x="1558.4" y="1723.9" width="24" height="3"/><rect x="1558.4" y="1815.6" width="24" height="3"/><rect x="1776.43" y="1979.88" width="2.5" height="22.75"/><rect x="1776.43" y="2032.98" width="2.5" height="12.56"/><rect x="1765.68" y="1978.38" width="24" height="3"/><rect x="1765.68" y="2044.04" width="24" height="3"/></g>
<g fill="#FF00FF"><rect x="558.66" y="1600.61" width="2.5" height="18.95"/><rect x="558.66" y="1652.74" width="2.5" height="18.95"/><rect x="547.91" y="1599.11" width="24" height="3"/><rect x="547.91" y="1670.19" width="24" height="3"/><rect x="740.03" y="1568.32" width="2.5" height="34.96"/><rect x="740.03" y="1636.46" width="2.5" height="34.96"/><rect x="729.28" y="1566.82" width="24" height="3"/><rect x="729.28" y="1669.92" width="24" height="3"/><rect x="921.4" y="1554.21" width="2.5" height="26.82"/><rect x="921.4" y="1614.21" width="2.5" height="26.82"/><rect x="910.65" y="1552.71" width="24" height="3"/><rect x="910.65" y="1639.53" width="24" height="3"/><rect x="1102.77" y="1574.02" width="2.5" height="24.11"/><rect x="1102.77" y="1631.3" width="2.5" height="24.1"/><rect x="1092.02" y="1572.52" width="24" height="3"/><rect x="1092.02" y="1653.91" width="24" height="3"/><rect x="1569.15" y="1611.46" width="2.5" height="15.97"/><rect x="1569.15" y="1660.6" width="2.5" height="15.97"/><rect x="1558.4" y="1609.96" width="24" height="3"/><rect x="1558.4" y="1675.07" width="24" height="3"/><rect x="1776.43" y="1652.42" width="2.5" height="12.98"/><rect x="1776.43" y="1698.59" width="2.5" height="12.98"/><rect x="1765.68" y="1650.92" width="24" height="3"/><rect x="1765.68" y="1710.07" width="24" height="3"/></g>
<g fill="#808000"><rect x="558.66" y="1755.52" width="2.5" height="9.81"/><rect x="558.66" y="1799.97" width="2.5" height="9.81"/><rect x="547.91" y="1754.02" width="24" height="3"/><rect x="547.91" y="1808.28" width="24" height="3"/><rect x="740.03" y="1638.32" width="2.5" height="69.49"/><rect x="740.03" y="1742.46" width="2.5" height="69.49"/><rect x="729.28" y="1636.82" width="24" height="3"/><rect x="729.28" y="1810.45" width="24" height="3"/><rect x="910.65" y="1687.28" width="24" height="3"/><rect x="910.65" y="1717.12" width="24" height="3"/><rect x="1102.77" y="1792.69" width="2.5" height="7.09"/><rect x="1102.77" y="1834.43" width="2.5" height="7.09"/><rect x="1092.02" y="1791.19" width="24" height="3"/><rect x="1092.02" y="1840.02" width="24" height="3"/><rect x="1569.15" y="2165.45" width="2.5" height="23.37"/><rect x="1569.15" y="2223.47" width="2.5" height="23.37"/><rect x="1558.4" y="2163.95" width="24" height="3"/><rect x="1558.4" y="2245.34" width="24" height="3"/><rect x="1776.43" y="2309.24" width="2.5" height="36.39"/><rect x="1776.43" y="2380.28" width="2.5" height="36.39"/><rect x="1765.68" y="2307.74" width="24" height="3"/><rect x="1765.68" y="2415.18" width="24" height="3"/></g>
<g fill="#000080"><rect x="558.66" y="1638.59" width="2.5" height="14.35"/><rect x="558.66" y="1689.9" width="2.5" height="14.35"/><rect x="547.91" y="1637.09" width="24" height="3"/><rect x="547.91" y="1702.74" width="24" height="3"/><rect x="740.03" y="1585.82" width="2.5" height="33.34"/><rect x="740.03" y="1656.12" width="2.5" height="33.34"/><rect x="729.28" y="1584.32" width="24" height="3"/><rect x="729.28" y="1687.96" width="24" height="3"/><rect x="921.4" y="1586.5" width="2.5" height="1.05"/><rect x="921.4" y="1624.51" width="2.5" height="1.05"/><rect x="910.65" y="1585" width="24" height="3"/><rect x="910.65" y="1624.07" width="24" height="3"/><rect x="1102.77" y="1551.77" width="2.5" height="16.79"/><rect x="1102.77" y="1605.52" width="2.5" height="16.79"/><rect x="1092.02" y="1550.27" width="24" height="3"/><rect x="1092.02" y="1620.81" width="24" height="3"/><rect x="1569.15" y="1542.28" width="2.5" height="8.65"/><rect x="1569.15" y="1587.89" width="2.5" height="8.65"/><rect x="1558.4" y="1540.78" width="24" height="3"/><rect x="1558.4" y="1595.04" width="24" height="3"/><rect x="1776.43" y="1541.19" width="2.5" height="3.22"/><rect x="1776.43" y="1581.38" width="2.5" height="3.22"/><rect x="1765.68" y="1539.69" width="24" height="3"/><rect x="1765.68" y="1583.1" width="24" height="3"/></g>
<g fill="#960000"><rect x="558.66" y="1692.58" width="2.5" height="26.59"/><rect x="558.66" y="1748.57" width="2.5" height="29.74"/><rect x="547.91" y="1691.08" width="24" height="3"/><rect x="547.91" y="1776.81" width="24" height="3"/><rect x="740.03" y="1651.61" width="2.5" height="30.12"/><rect x="740.03" y="1711.13" width="2.5" height="33.27"/><rect x="729.28" y="1650.11" width="24" height="3"/><rect x="729.28" y="1742.89" width="24" height="3"/><rect x="921.4" y="1640.76" width="2.5" height="27.4"/><rect x="921.4" y="1697.56" width="2.5" height="30.55"/><rect x="910.65" y="1639.26" width="24" height="3"/><rect x="910.65" y="1726.62" width="24" height="3"/><rect x="1102.77" y="1826.06" width="2.5" height="29.85"/><rect x="1102.77" y="1885.3" width="2.5" height="33"/><rect x="1092.02" y="1824.56" width="24" height="3"/><rect x="1092.02" y="1916.8" width="24" height="3"/><rect x="1569.15" y="2108.48" width="2.5" height="24.42"/><rect x="1569.15" y="2162.3" width="2.5" height="27.57"/><rect x="1558.4" y="2106.98" width="24" height="3"/><rect x="1558.4" y="2188.37" width="24" height="3"/><rect x="1776.43" y="2243.86" width="2.5" height="37.99"/><rect x="1776.43" y="2311.24" width="2.5" height="41.13"/><rect x="1765.68" y="2242.36" width="24" height="3"/><rect x="1765.68" y="2350.88" width="24" height="3"/></g>
<g fill="#FF0080"><rect x="558.66" y="1610.37" width="2.5" height="52.53"/><rect x="558.66" y="1695.66" width="2.5" height="52.53"/><rect x="547.91" y="1608.87" width="24" height="3"/><rect x="547.91" y="1746.69" width="24" height="3"/><rect x="740.03" y="1608.74" width="2.5" height="32.45"/><rect x="740.03" y="1673.96" width="2.5" height="32.45"/><rect x="729.28" y="1607.24" width="24" height="3"/><rect x="729.28" y="1704.91" width="24" height="3"/><rect x="921.4" y="1584.87" width="2.5" height="40.59"/><rect x="921.4" y="1658.22" width="2.5" height="40.59"/><rect x="910.65" y="1583.37" width="24" height="3"/><rect x="910.65" y="1697.32" width="24" height="3"/><rect x="1102.77" y="1603.32" width="2.5" height="54.16"/><rect x="1102.77" y="1690.24" width="2.5" height="54.16"/><rect x="1092.02" y="1601.82" width="24" height="3"/><rect x="1092.02" y="1742.89" width="24" height="3"/><rect x="1569.15" y="1722.42" width="2.5" height="16.18"/><rect x="1569.15" y="1771.36" width="2.5" height="16.18"/><rect x="1558.4" y="1720.92" width="24" height="3"/><rect x="1558.4" y="1786.03" width="24" height="3"/><rect x="1776.43" y="1963.88" width="2.5" height="21.87"/><rect x="1776.43" y="2018.51" width="2.5" height="21.87"/><rect x="1765.68" y="1962.38" width="24" height="3"/><rect x="1765.68" y="2038.88" width="24" height="3"/></g>
<g fill="#008000"><rect x="558.66" y="1568.32" width="2.5" height="49.7"/><rect x="558.66" y="1650.05" width="2.5" height="53.38"/><rect x="547.91" y="1566.82" width="24" height="3"/><rect x="547.91" y="1701.93" width="24" height="3"/><rect x="740.03" y="1560.45" width="2.5" height="28"/><rect x="740.03" y="1620.48" width="2.5" height="31.67"/><rect x="729.28" y="1558.95" width="24" height="3"/><rect x="729.28" y="1650.65" width="24" height="3"/><rect x="921.4" y="1546.35" width="2.5" height="22.84"/><rect x="921.4" y="1601.22" width="2.5" height="26.52"/><rect x="910.65" y="1544.85" width="24" height="3"/><rect x="910.65" y="1626.24" width="24" height="3"/><rect x="1102.77" y="1560.18" width="2.5" height="25.56"/><rect x="1102.77" y="1617.77" width="2.5" height="29.23"/><rect x="1092.02" y="1558.68" width="24" height="3"/><rect x="1092.02" y="1645.5" width="24" height="3"/><rect x="1569.15" y="1592.47" width="2.5" height="22.57"/><rect x="1569.15" y="1647.07" width="2.5" height="26.25"/><rect x="1558.4" y="1590.97" width="24" height="3"/><rect x="1558.4" y="1671.81" width="24" height="3"/><rect x="1776.43" y="1622.58" width="2.5" height="30.98"/><rect x="1776.43" y="1685.59" width="2.5" height="34.66"/><rect x="1765.68" y="1621.08" width="24" height="3"/><rect x="1765.68" y="1718.75" width="24" height="3"/></g>
<rect x="437" y="710.3" width="82" height="2.8" fill="#000000"/>
<rect x="465" y="699.2" width="26" height="25" fill="#000000"/>
<rect x="437" y="751.63" width="82" height="2.8" fill="#FF0000"/>
<ellipse cx="478" cy="753.03" rx="14.8" ry="14.4" fill="#FF0000"/>
<rect x="437" y="792.96" width="82" height="2.8" fill="#0000FF"/>
<polygon points="478,775.06 495.2,803.96 460.8,803.96" fill="#0000FF"/>
<rect x="437" y="834.29" width="82" height="2.8" fill="#008080"/>
<polygon points="460.8,826.09 495.2,826.09 478,854.99" fill="#008080"/>
<rect x="437" y="875.62" width="82" height="2.8" fill="#FF00FF"/>
<polygon points="457.7,877.02 488,861.22 488,892.82" fill="#FF00FF"/>
<rect x="437" y="916.95" width="82" height="2.8" fill="#808000"/>
<polygon points="467.5,901.85 497.8,918.35 467.5,934.85" fill="#808000"/>
<rect x="437" y="958.28" width="82" height="2.8" fill="#000080"/>
<polygon points="478,942.08 495.9,959.68 478,977.28 460.1,959.68" fill="#000080"/>
<rect x="437" y="999.61" width="82" height="2.8" fill="#960000"/>
<polygon points="478,985.51 494,997.21 488.8,1013.51 467.2,1013.51 462,997.21" fill="#960000"/>
<rect x="437" y="1040.94" width="82" height="2.8" fill="#FF0080"/>
<polygon points="478,1026.74 492,1035.14 492,1050.54 478,1057.94 464,1050.54 464,1035.14" fill="#FF0080"/>
<rect x="437" y="1082.27" width="82" height="2.8" fill="#008000"/>
<polygon points="478,1067.7 482.23,1078.26 493.79,1078.94 484.85,1086.15 487.76,1097.13 478,1091.03 468.24,1097.13 471.15,1086.15 462.21,1078.94 473.77,1078.26" fill="#008000"/>
<rect x="449" y="2133.2" width="82" height="2.8" fill="#000000"/>
<rect x="477" y="2121.47" width="26" height="26.25" fill="#000000"/>
<rect x="449" y="2177.9" width="82" height="2.8" fill="#FF0000"/>
<ellipse cx="490" cy="2179.3" rx="14.8" ry="15.12" fill="#FF0000"/>
<rect x="449" y="2222.6" width="82" height="2.8" fill="#0000FF"/>
<polygon points="490,2203.74 507.2,2234.08 472.8,2234.08" fill="#0000FF"/>
<rect x="449" y="2267.3" width="82" height="2.8" fill="#008080"/>
<polygon points="472.8,2258.62 507.2,2258.62 490,2288.96" fill="#008080"/>
<rect x="449" y="2312" width="82" height="2.8" fill="#FF00FF"/>
<polygon points="469.7,2313.4 500,2296.81 500,2329.99" fill="#FF00FF"/>
<rect x="449" y="2356.7" width="82" height="2.8" fill="#808000"/>
<polygon points="479.5,2340.78 509.8,2358.1 479.5,2375.42" fill="#808000"/>
<rect x="449" y="2401.4" width="82" height="2.8" fill="#000080"/>
<polygon points="490,2384.32 507.9,2402.8 490,2421.28 472.1,2402.8" fill="#000080"/>
<rect x="449" y="2446.1" width="82" height="2.8" fill="#960000"/>
<polygon points="490,2431.22 506,2443.51 500.8,2460.62 479.2,2460.62 474,2443.51" fill="#960000"/>
<rect x="449" y="2490.8" width="82" height="2.8" fill="#FF0080"/>
<polygon points="490,2475.82 504,2484.64 504,2500.81 490,2508.58 476,2500.81 476,2484.64" fill="#FF0080"/>
<rect x="449" y="2535.5" width="82" height="2.8" fill="#008000"/>
<polygon points="490,2520.13 494.23,2531.22 505.79,2531.94 496.85,2539.5 499.76,2551.03 490,2544.62 480.24,2551.03 483.15,2539.5 474.21,2531.94 485.77,2531.22" fill="#008000"/>
<defs><filter id="crisp" x="-5%" y="-5%" width="110%" height="110%" color-interpolation-filters="sRGB"><feComponentTransfer><feFuncA type="discrete" tableValues="0 0 1"/></feComponentTransfer></filter></defs>
<g filter="url(#crisp)"><text transform="translate(297.29,1143.3) scale(1.0318,1)" font-family="&#39;Liberation Sans&#39;, Arial, sans-serif" font-weight="normal" font-size="43.8" xml:space="preserve">0.0</text>
<text transform="translate(298,1009.6) scale(1.0318,1)" font-family="&#39;Liberation Sans&#39;, Arial, sans-serif" font-weight="normal" font-size="43.8" xml:space="preserve">0.5</text>
<text transform="translate(297.29,875.9) scale(1.0318,1)" font-family="&#39;Liberation Sans&#39;, Arial, sans-serif" font-weight="normal" font-size="43.8" xml:space="preserve">1.0</text>
<text transform="translate(298,742.2) scale(1.0318,1)" font-family="&#39;Liberation Sans&#39;, Arial, sans-serif" font-weight="normal" font-size="43.8" xml:space="preserve">1.5</text>
<text transform="translate(297.29,608.5) scale(1.0318,1)" font-family="&#39;Liberation Sans&#39;, Arial, sans-serif" font-weight="normal" font-size="43.8" xml:space="preserve">2.0</text>
<text transform="translate(298,474.8) scale(1.0318,1)" font-family="&#39;Liberation Sans&#39;, Arial, sans-serif" font-weight="normal" font-size="43.8" xml:space="preserve">2.5</text>
<text transform="translate(297.29,341.1) scale(1.0318,1)" font-family="&#39;Liberation Sans&#39;, Arial, sans-serif" font-weight="normal" font-size="43.8" xml:space="preserve">3.0</text>
<text transform="translate(298,207.4) scale(1.0318,1)" font-family="&#39;Liberation Sans&#39;, Arial, sans-serif" font-weight="normal" font-size="43.8" xml:space="preserve">3.5</text>
<text transform="translate(297.29,73.7) scale(1.0318,1)" font-family="&#39;Liberation Sans&#39;, Arial, sans-serif" font-weight="normal" font-size="43.8" xml:space="preserve">4.0</text>
<text transform="translate(302.57,2531) scale(0.9743,1)" font-family="&#39;Liberation Sans&#39;, Arial, sans-serif" font-weight="normal" font-size="46.93" xml:space="preserve">0.0</text>
<text transform="translate(303.29,2395.35) scale(0.9743,1)" font-family="&#39;Liberation Sans&#39;, Arial, sans-serif" font-weight="normal" font-size="46.93" xml:space="preserve">0.5</text>
<text transform="translate(302.57,2259.7) scale(0.9743,1)" font-family="&#39;Liberation Sans&#39;, Arial, sans-serif" font-weight="normal" font-size="46.93" xml:space="preserve">1.0</text>
<text transform="translate(303.29,2124.05) scale(0.9743,1)" font-family="&#39;Liberation Sans&#39;, Arial, sans-serif" font-weight="normal" font-size="46.93" xml:space="preserve">1.5</text>
<text transform="translate(302.57,1988.4) scale(0.9743,1)" font-family="&#39;Liberation Sans&#39;, Arial, sans-serif" font-weight="normal" font-size="46.93" xml:space="preserve">2.0</text>
<text transform="translate(303.29,1852.75) scale(0.9743,1)" font-family="&#39;Liberation Sans&#39;, Arial, sans-serif" font-weight="normal" font-size="46.93" xml:space="preserve">2.5</text>
<text transform="translate(302.57,1717.1) scale(0.9743,1)" font-family="&#39;Liberation Sans&#39;, Arial, sans-serif" font-weight="normal" font-size="46.93" xml:space="preserve">3.0</text>
<text transform="translate(303.29,1581.45) scale(0.9743,1)" font-family="&#39;Liberation Sans&#39;, Arial, sans-serif" font-weight="normal" font-size="46.93" xml:space="preserve">3.5</text>
<text transform="translate(302.57,1445.8) scale(0.9743,1)" font-family="&#39;Liberation Sans&#39;, Arial, sans-serif" font-weight="normal" font-size="46.93" xml:space="preserve">4.0</text>
<text transform="translate(516.65,1199.9) scale(1.0008,1)" font-family="&#39;Liberation Sans&#39;, Arial, sans-serif" font-weight="normal" font-size="43.52" xml:space="preserve">0</text>
<text transform="translate(762.66,1199.9) scale(1.0008,1)" font-family="&#39;Liberation Sans&#39;, Arial, sans-serif" font-weight="normal" font-size="43.52" xml:space="preserve">10</text>
<text transform="translate(1021.8,1199.9) scale(1.0008,1)" font-family="&#39;Liberation Sans&#39;, Arial, sans-serif" font-weight="normal" font-size="43.52" xml:space="preserve">20</text>
<text transform="translate(1280.94,1199.9) scale(1.0008,1)" font-family="&#39;Liberation Sans&#39;, Arial, sans-serif" font-weight="normal" font-size="43.52" xml:space="preserve">30</text>
<text transform="translate(1540.08,1199.9) scale(1.0008,1)" font-family="&#39;Liberation Sans&#39;, Arial, sans-serif" font-weight="normal" font-size="43.52" xml:space="preserve">40</text>
<text transform="translate(1798.54,1199.9) scale(1.0008,1)" font-family="&#39;Liberation Sans&#39;, Arial, sans-serif" font-weight="normal" font-size="43.52" xml:space="preserve">50</text>
<text transform="translate(522.42,2660) scale(0.9986,1)" font-family="&#39;Liberation Sans&#39;, Arial, sans-serif" font-weight="normal" font-size="45.51" xml:space="preserve">0</text>
<text transform="translate(768.17,2660) scale(0.9986,1)" font-family="&#39;Liberation Sans&#39;, Arial, sans-serif" font-weight="normal" font-size="45.51" xml:space="preserve">10</text>
<text transform="translate(1027.62,2660) scale(0.9986,1)" font-family="&#39;Liberation Sans&#39;, Arial, sans-serif" font-weight="normal" font-size="45.51" xml:space="preserve">20</text>
<text transform="translate(1287.08,2660) scale(0.9986,1)" font-family="&#39;Liberation Sans&#39;, Arial, sans-serif" font-weight="normal" font-size="45.51" xml:space="preserve">30</text>
<text transform="translate(1546.53,2660) scale(0.9986,1)" font-family="&#39;Liberation Sans&#39;, Arial, sans-serif" font-weight="normal" font-size="45.51" xml:space="preserve">40</text>
<text transform="translate(1805.28,2660) scale(0.9986,1)" font-family="&#39;Liberation Sans&#39;, Arial, sans-serif" font-weight="normal" font-size="45.51" xml:space="preserve">50</text>
<text transform="translate(528.2,723.7) scale(1.0741,1)" font-family="&#39;Liberation Sans&#39;, Arial, sans-serif" font-weight="normal" font-size="33.42" xml:space="preserve">PHBV + 10 wt% OEO Open system</text>
<text transform="translate(528.2,765.03) scale(1.0741,1)" font-family="&#39;Liberation Sans&#39;, Arial, sans-serif" font-weight="normal" font-size="33.42" xml:space="preserve">PHBV + 3 wt% ZnONPs Open system</text>
<text transform="translate(528.2,806.36) scale(1.0741,1)" font-family="&#39;Liberation Sans&#39;, Arial, sans-serif" font-weight="normal" font-size="33.42" xml:space="preserve">PHBV + 7.5 wt% OEO + 0.75 wt% ZnONPs Open system</text>
<text transform="translate(528.2,847.69) scale(1.0741,1)" font-family="&#39;Liberation Sans&#39;, Arial, sans-serif" font-weight="normal" font-size="33.42" xml:space="preserve">PHBV + 5 wt% OEO + 1.5 wt% ZnONPs Open system</text>
<text transform="translate(528.2,889.02) scale(1.0741,1)" font-family="&#39;Liberation Sans&#39;, Arial, sans-serif" font-weight="normal" font-size="33.42" xml:space="preserve">PHBV + 2.5 wt% OEO + 2.25 wt% ZnONPs Open system</text>
<text transform="translate(528.2,930.35) scale(1.0741,1)" font-family="&#39;Liberation Sans&#39;, Arial, sans-serif" font-weight="normal" font-size="33.42" xml:space="preserve">PHBV + 10 wt% OEO Closed system</text>
<text transform="translate(528.2,971.68) scale(1.0741,1)" font-family="&#39;Liberation Sans&#39;, Arial, sans-serif" font-weight="normal" font-size="33.42" xml:space="preserve">PHBV + 3 wt% ZnONPs Closed system</text>
<text transform="translate(528.2,1013.01) scale(1.0741,1)" font-family="&#39;Liberation Sans&#39;, Arial, sans-serif" font-weight="normal" font-size="33.42" xml:space="preserve">PHBV + 7.5 wt% OEO + 0.75 wt% ZnONPs Closed system</text>
<text transform="translate(528.2,1054.34) scale(1.0741,1)" font-family="&#39;Liberation Sans&#39;, Arial, sans-serif" font-weight="normal" font-size="33.42" xml:space="preserve">PHBV + 5 wt% OEO + 1.5 wt% ZnONPs Closed system</text>
<text transform="translate(528.2,1095.67) scale(1.0741,1)" font-family="&#39;Liberation Sans&#39;, Arial, sans-serif" font-weight="normal" font-size="33.42" xml:space="preserve">PHBV + 2.5 wt% OEO + 2.25 wt% ZnONPs Closed system</text>
<text transform="translate(540.99,2147.9) scale(0.9753,1)" font-family="&#39;Liberation Sans&#39;, Arial, sans-serif" font-weight="normal" font-size="36.84" xml:space="preserve">PHBV + 10 wt% OEO Open system</text>
<text transform="translate(540.99,2192.6) scale(0.9753,1)" font-family="&#39;Liberation Sans&#39;, Arial, sans-serif" font-weight="normal" font-size="36.84" xml:space="preserve">PHBV + 3 wt% ZnONPs Open system</text>
<text transform="translate(540.99,2237.3) scale(0.9753,1)" font-family="&#39;Liberation Sans&#39;, Arial, sans-serif" font-weight="normal" font-size="36.84" xml:space="preserve">PHBV + 7.5 wt% OEO + 0.75 wt% ZnONPs Open system</text>
<text transform="translate(540.99,2282) scale(0.9753,1)" font-family="&#39;Liberation Sans&#39;, Arial, sans-serif" font-weight="normal" font-size="36.84" xml:space="preserve">PHBV + 5 wt% OEO + 1.5 wt% ZnONPs Open system</text>
<text transform="translate(540.99,2326.7) scale(0.9753,1)" font-family="&#39;Liberation Sans&#39;, Arial, sans-serif" font-weight="normal" font-size="36.84" xml:space="preserve">PHBV + 2.5 wt% OEO + 2.25 wt% ZnONPs Open system</text>
<text transform="translate(540.99,2371.4) scale(0.9753,1)" font-family="&#39;Liberation Sans&#39;, Arial, sans-serif" font-weight="normal" font-size="36.84" xml:space="preserve">PHBV + 10 wt% OEO Closed system</text>
<text transform="translate(540.99,2416.1) scale(0.9753,1)" font-family="&#39;Liberation Sans&#39;, Arial, sans-serif" font-weight="normal" font-size="36.84" xml:space="preserve">PHBV + 3 wt% ZnONPs Closed system</text>
<text transform="translate(540.99,2460.8) scale(0.9753,1)" font-family="&#39;Liberation Sans&#39;, Arial, sans-serif" font-weight="normal" font-size="36.84" xml:space="preserve">PHBV + 7.5 wt% OEO + 0.75 wt% ZnONPs Closed system</text>
<text transform="translate(540.99,2505.5) scale(0.9753,1)" font-family="&#39;Liberation Sans&#39;, Arial, sans-serif" font-weight="normal" font-size="36.84" xml:space="preserve">PHBV + 5 wt% OEO + 1.5 wt% ZnONPs Closed system</text>
<text transform="translate(540.99,2550.2) scale(0.9753,1)" font-family="&#39;Liberation Sans&#39;, Arial, sans-serif" font-weight="normal" font-size="36.84" xml:space="preserve">PHBV + 2.5 wt% OEO + 2.25 wt% ZnONPs Closed system</text>
<text transform="translate(997.96,1306.8) scale(1.0498,1)" font-family="&#39;Liberation Sans&#39;, Arial, sans-serif" font-weight="normal" font-size="63.57" xml:space="preserve">Time (days)</text>
<text transform="translate(996.95,2781) scale(0.9832,1)" font-family="&#39;Liberation Sans&#39;, Arial, sans-serif" font-weight="normal" font-size="68.41" xml:space="preserve">Time (days)</text>
<text transform="translate(251,1114.95) rotate(-90) scale(0.9730,1)" font-family="&#39;Liberation Sans&#39;, Arial, sans-serif" font-weight="normal" font-size="64" xml:space="preserve">S. <tspan font-style="italic">aureus</tspan> Reduction LOG (CFU / mL)</text>
<text transform="translate(255,2512.05) rotate(-90) scale(0.9826,1)" font-family="&#39;Liberation Sans&#39;, Arial, sans-serif" font-weight="normal" font-size="68.27" xml:space="preserve"><tspan font-style="italic">E. coli</tspan>  Reduction LOG (CFU / mL)</text>
<text transform="translate(19.78,86.31) scale(0.9378,1)" font-family="&#39;Liberation Serif&#39;, &#39;Times New Roman&#39;, serif" font-weight="bold" font-size="75.82" xml:space="preserve">(</text>
<text transform="translate(87.89,86.31) scale(0.9732,1)" font-family="&#39;Liberation Serif&#39;, &#39;Times New Roman&#39;, serif" font-weight="bold" font-size="75.82" xml:space="preserve">)</text>
<text transform="translate(45.54,93.53) scale(0.9647,1)" font-family="&#39;Liberation Serif&#39;, &#39;Times New Roman&#39;, serif" font-weight="bold" font-size="81.6" xml:space="preserve">a</text>
<text transform="translate(42.78,1444.21) scale(0.9378,1)" font-family="&#39;Liberation Serif&#39;, &#39;Times New Roman&#39;, serif" font-weight="bold" font-size="75.82" xml:space="preserve">(</text>
<text transform="translate(119.67,1444.21) scale(0.9831,1)" font-family="&#39;Liberation Serif&#39;, &#39;Times New Roman&#39;, serif" font-weight="bold" font-size="75.82" xml:space="preserve">)</text>
<text transform="translate(68.9,1452.53) scale(1.0200,1)" font-family="&#39;Liberation Serif&#39;, &#39;Times New Roman&#39;, serif" font-weight="bold" font-size="87.65" xml:space="preserve">b</text></g>
</svg></body></html>
